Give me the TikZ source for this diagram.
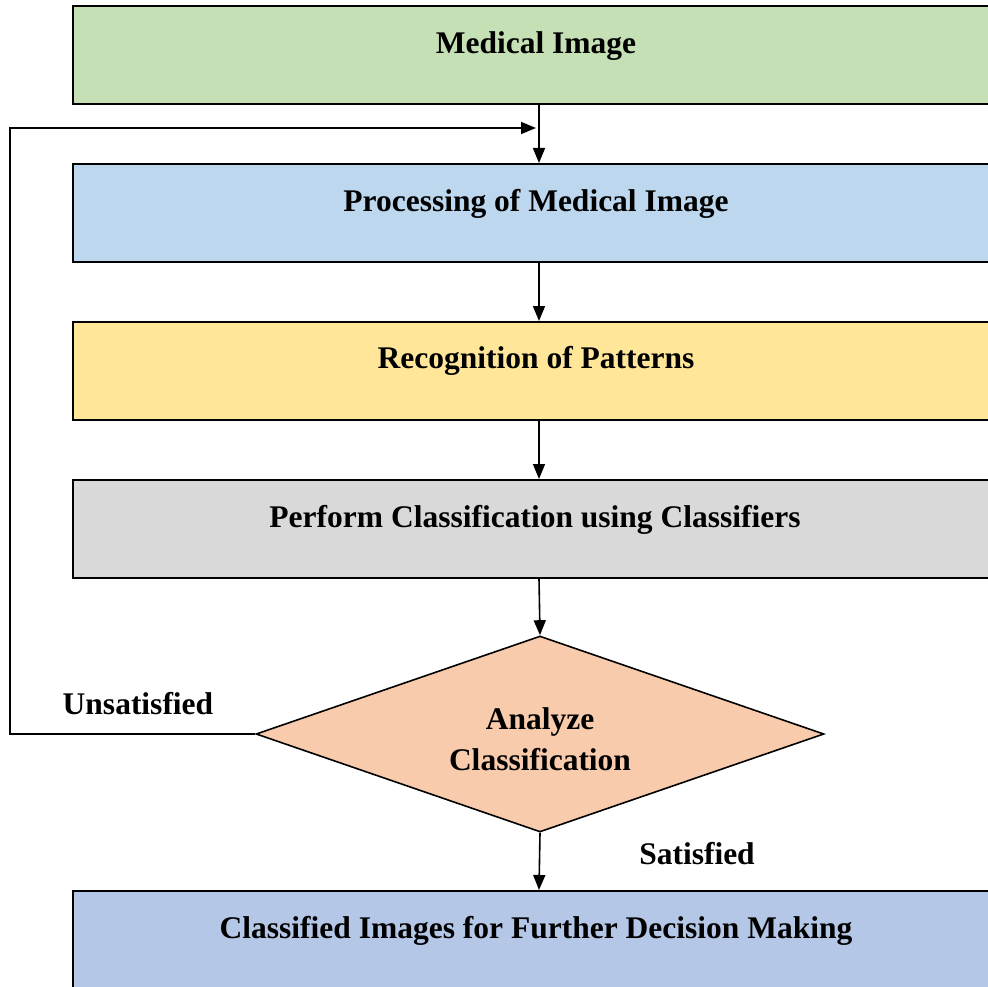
\documentclass[tikz,border=0pt]{standalone}
\usepackage{fontspec}
\setmainfont{Liberation Serif}
\usetikzlibrary{shapes.geometric,arrows.meta}
\definecolor{cgreen}{HTML}{C5E0B4}
\definecolor{cblue}{HTML}{BDD7EE}
\definecolor{cyellow}{HTML}{FFE699}
\definecolor{cgray}{HTML}{D9D9D9}
\definecolor{corange}{HTML}{F8CBAD}
\definecolor{cblue2}{HTML}{B4C7E7}
\begin{document}
\begin{tikzpicture}[x=1pt,y=-1pt,
  box/.style={draw=black,line width=1.6pt,minimum width=932pt,minimum height=98pt,inner sep=0pt,anchor=north},
  lbl/.style={font=\fontsize{31.5}{41}\selectfont\bfseries,inner sep=0pt,align=center},
  conn/.style={line width=1.6pt,-{Triangle[length=15pt,width=12pt]}}]
\useasboundingbox (0,0) rectangle (988,987);
\clip (0,0) rectangle (988,987);
\node[box,fill=cgreen] (b1) at (539,5) {};
\node[box,fill=cblue] (b2) at (539,163) {};
\node[box,fill=cyellow] (b3) at (539,321) {};
\node[box,fill=cgray] (b4) at (539,479) {};
\node[draw=black,line width=1.6pt,fill=corange,shape=diamond,aspect=2.9,minimum width=568pt,minimum height=196pt,inner sep=0pt] (d) at (540,734) {};
\node[box,fill=cblue2,minimum height=120pt] (b5) at (539,890) {};
\node[lbl] (t1) at (536,46) {Medical Image};
\node[lbl] (t2) at (536,204) {Processing of Medical Image};
\node[lbl] (t3) at (536,361) {Recognition of Patterns};
\node[lbl] (t4) at (535,520) {Perform Classification using Classifiers};
\node[lbl] (td) at (540,739) {Analyze\\Classification};
\node[lbl] (t5) at (536,931) {Classified Images for Further Decision Making};
\node[lbl] (un) at (138,704) {Unsatisfied};
\node[lbl] (sa) at (697,854) {Satisfied};
\draw[conn] (b1.south) -- (b2.north);
\draw[conn] (b2.south) -- (b3.north);
\draw[conn] (b3.south) -- (b4.north);
\draw[conn] (b4.south) -- (d.north);
\draw[conn] (d.south) -- (b5.north);
\coordinate (fb) at (536,128);
\coordinate (fl) at (10,734);
\draw[conn] (d.west) -- (fl) |- (fb);
\end{tikzpicture}
\end{document}
